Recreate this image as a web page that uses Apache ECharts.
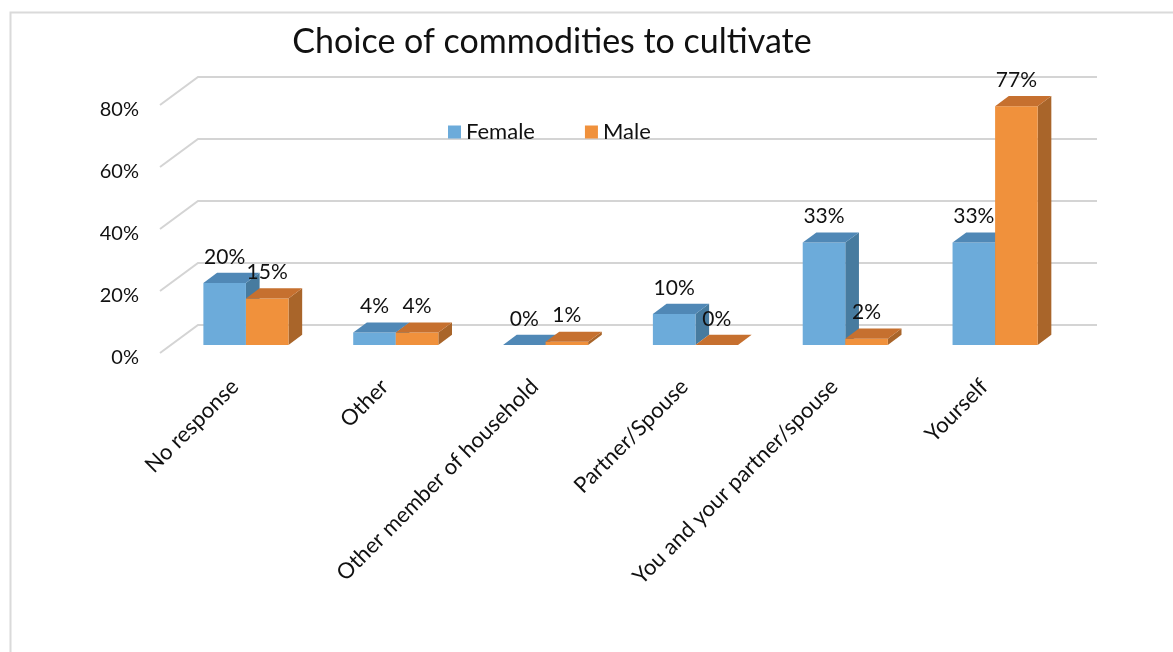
<!DOCTYPE html>
<html>
<head>
<meta charset="utf-8">
<script src="https://cdn.jsdelivr.net/npm/echarts@6/dist/echarts.min.js"></script>
<style>
  html, body { margin: 0; padding: 0; background: #fff; }
  #chart { width: 1173px; height: 652px; }
</style>
</head>
<body>
<div id="chart"></div>
<script>
// ---- data ----
const categories = ['No response', 'Other', 'Other member of household', 'Partner/Spouse', 'You and your partner/spouse', 'Yourself'];
const female = [0.20, 0.04, 0.00, 0.10, 0.33, 0.33];
const male = [0.15, 0.04, 0.01, 0.00, 0.02, 0.77];
const yTicks = [0, 0.2, 0.4, 0.6, 0.8];
const titleText = 'Choice of commodities to cultivate';

// ---- 3D look ----
const FONT = 'Lato, "Open Sans", sans-serif';
const DEPTH = [38, -28];          // floor depth: front edge -> back wall (px)
const BAR_FRONT = 0.29;           // bar front face position along the depth
const BAR_BACK = 0.65;            // bar back face position along the depth
const BAR_FRAC = 0.284;           // bar width as share of a category band

const palette = {
  Female: { front: '#6CABDA', top: '#5088B6', side: '#477B9F' },
  Male:   { front: '#F0913C', top: '#C6702F', side: '#A9652A' }
};

function shift(p, t) { return [p[0] + DEPTH[0] * t, p[1] + DEPTH[1] * t]; }
function pct(v) { return Math.round(v * 100) + '%'; }

// gridlines: short oblique stroke on the left wall + line on the back wall
function renderGrid(params, api) {
  const cs = params.coordSys;
  const y = api.coord([0, api.value(1)])[1];
  const x0 = cs.x, x1 = cs.x + cs.width;
  const p0 = [x0, y];
  const p1 = shift(p0, 1);
  const p2 = [x1 + DEPTH[0], y + DEPTH[1]];
  return {
    type: 'polyline',
    shape: { points: [p0, p1, p2] },
    style: { stroke: '#D4D4D4', lineWidth: 2, fill: null },
    silent: true
  };
}

function makeBarRenderer(name, slot) {
  const c = palette[name];
  return function (params, api) {
    const i = api.value(0), v = api.value(1);
    const base = api.coord([i, 0]);
    const topPt = api.coord([i, v]);
    const band = api.size([1, 0])[0];
    const w = band * BAR_FRAC;
    const xl = base[0] + (slot === 0 ? -w : 0);
    const A = shift([xl, base[1]], BAR_FRONT);
    const B = shift([xl + w, base[1]], BAR_FRONT);
    const C = shift([xl + w, topPt[1]], BAR_FRONT);
    const D = shift([xl, topPt[1]], BAR_FRONT);
    const dd = BAR_BACK - BAR_FRONT;
    const Cb = shift(C, dd), Db = shift(D, dd), Bb = shift(B, dd);
    return {
      type: 'group',
      children: [
        { type: 'polygon', shape: { points: [B, C, Cb, Bb] }, style: { fill: c.side } },
        { type: 'polygon', shape: { points: [A, B, C, D] }, style: { fill: c.front } },
        { type: 'polygon', shape: { points: [D, C, Cb, Db] }, style: { fill: c.top } },
        {
          type: 'text', z2: 100,
          style: {
            x: (A[0] + B[0]) / 2, y: Db[1] - 16,
            text: pct(v), align: 'center', verticalAlign: 'middle',
            fontFamily: FONT, fontSize: 21, fill: '#111'
          }
        }
      ]
    };
  };
}

const chart = echarts.init(document.getElementById('chart'), null, { renderer: 'canvas' });

chart.setOption({
  backgroundColor: '#fff',
  animation: false,
  graphic: [
    { type: 'rect', shape: { x: 10.5, y: 12.5, width: 1300, height: 800 },
      style: { fill: null, stroke: '#DADADA', lineWidth: 2 }, silent: true },
    { type: 'text', x: 552, y: 42,
      style: { text: titleText, align: 'center', verticalAlign: 'middle',
               fontFamily: FONT, fontSize: 34, fill: '#111' } }
  ],
  legend: {
    data: ['Female', 'Male'],
    left: 443, top: 116,
    itemWidth: 13, itemHeight: 13, itemGap: 50,
    icon: 'rect',
    textStyle: { fontFamily: FONT, fontSize: 22, color: '#111' }
  },
  grid: { left: 160, top: 105, width: 899, height: 248 },
  xAxis: {
    type: 'category',
    data: categories,
    axisLine: { show: false },
    axisTick: { show: false },
    axisLabel: { interval: 0, rotate: 45, margin: 30, fontFamily: FONT, fontSize: 22, color: '#111' }
  },
  yAxis: {
    type: 'value',
    min: 0, max: 0.8, interval: 0.2,
    axisLine: { show: false },
    axisTick: { show: false },
    splitLine: { show: false },
    axisLabel: { margin: 21, verticalAlign: 'top', lineHeight: 9, formatter: pct, fontFamily: FONT, fontSize: 20, color: '#111' }
  },
  series: [
    {
      name: 'grid', type: 'custom', silent: true, z: 1,
      renderItem: renderGrid,
      data: yTicks.map(v => [0, v]),
      encode: { x: 0, y: 1 }
    },
    {
      name: 'Female', type: 'custom', z: 2,
      itemStyle: { color: palette.Female.front },
      renderItem: makeBarRenderer('Female', 0),
      data: female.map((v, i) => [i, v]),
      encode: { x: 0, y: 1 }
    },
    {
      name: 'Male', type: 'custom', z: 2,
      itemStyle: { color: palette.Male.front },
      renderItem: makeBarRenderer('Male', 1),
      data: male.map((v, i) => [i, v]),
      encode: { x: 0, y: 1 }
    }
  ]
});
</script>
</body>
</html>
